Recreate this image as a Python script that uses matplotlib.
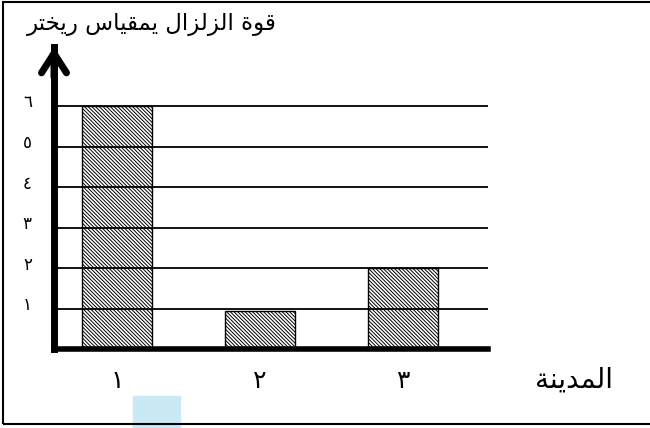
import matplotlib
matplotlib.use("Agg")
import matplotlib.pyplot as plt
import matplotlib.transforms as mtransforms
from matplotlib.patches import Rectangle

plt.rcParams['font.family'] = ['DejaVu Sans']
plt.rcParams['hatch.linewidth'] = 0.7

# data
cities = ['\u0661', '\u0662', '\u0663']          # ١ ٢ ٣
magnitude = [6, 0.95, 2]
y_ticks = [1, 2, 3, 4, 5, 6]
y_tick_labels = ['\u0661', '\u0662', '\u0663', '\u0664', '\u0665', '\u0666']

# arabic text written in visual order with presentation forms
# "قوة الزلزال يمقياس ريختر"
title_txt = ('\uFEAE\uFE98\uFEA8\uFEF3\uFEAD' + ' ' +
             '\uFEB1\uFE8E\uFEF4\uFED8\uFEE4\uFEF3' + ' ' +
             '\uFEDD\uFE8D\uFEB0\uFEDF\uFEB0\uFEDF\uFE8D' + ' ' +
             '\uFE93\uFEEE\uFED7')
# "المدينة"
xlabel_txt = '\uFE94\uFEE8\uFEF3\uFEAA\uFEE4\uFEDF\uFE8D'

W, H = 650, 428
fig = plt.figure(figsize=(6.5, 4.28), dpi=100)
ax = fig.add_axes([54 / W, (H - 349.3) / H, (488 - 54) / W, 302.3 / H])

x = list(range(len(cities)))
ax.bar(x, magnitude, width=0.49, color='white', edgecolor='black',
       linewidth=1.0, hatch='\\' * 9, zorder=2)

ax.set_xlim(-0.4406, 2.594)
ax.set_ylim(0, 7.455)

ax.set_yticks(y_ticks, y_tick_labels)
ax.set_xticks(x, cities)
ax.tick_params(axis='y', length=0, pad=16, labelsize=12)
ax.tick_params(axis='x', length=0, pad=14, labelsize=18)
off = mtransforms.ScaledTranslation(0, 4 / 72, fig.dpi_scale_trans)
for lab in ax.get_yticklabels():
    lab.set_transform(lab.get_transform() + off)

ax.yaxis.grid(True, color='black', linewidth=1.3)
ax.set_axisbelow(False)

for s in ['top', 'right']:
    ax.spines[s].set_visible(False)
ax.spines['left'].set_linewidth(5)
ax.spines['bottom'].set_linewidth(4)

# arrow head on the vertical axis
ax.annotate('', xy=(0, 1.0), xytext=(0, 0.9), xycoords='axes fraction',
            arrowprops=dict(arrowstyle='->, head_length=1.4, head_width=0.9',
                            linewidth=5, color='black', joinstyle='miter',
                            shrinkA=0, shrinkB=0),
            annotation_clip=False)

fig.text(152 / W, 1 - 25 / H, title_txt, ha='center', va='center', fontsize=16.5)
fig.text(574 / W, 1 - 380 / H, xlabel_txt, ha='center', va='center', fontsize=20)

# outer frame
fig.patches.append(Rectangle((3 / W, 4 / H), 1.0, 1 - 6 / H, fill=False,
                             edgecolor='black', linewidth=1.5,
                             transform=fig.transFigure, figure=fig))
# faint watermark block
fig.patches.append(Rectangle((133 / W, 0), 47 / W, 32 / H, color='#c9eaf5',
                             transform=fig.transFigure, figure=fig, zorder=0))

fig.savefig('out.png', dpi=100)
